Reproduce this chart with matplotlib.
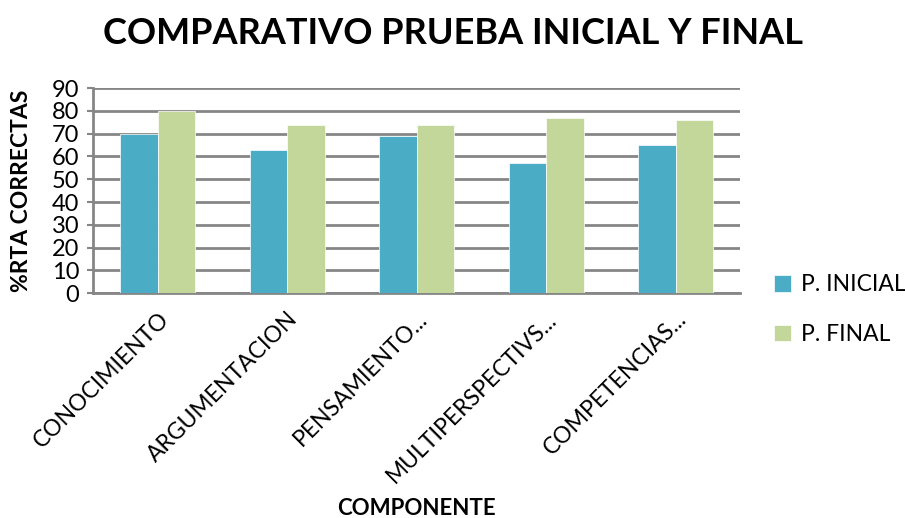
import matplotlib.pyplot as plt
import numpy as np

plt.rcParams['font.family'] = ['Lato', 'DejaVu Sans']

categorias = ['CONOCIMIENTO', 'ARGUMENTACION', 'PENSAMIENTO...',
              'MULTIPERSPECTIVS...', 'COMPETENCIAS...']
p_inicial = [70, 63, 69, 57, 65]
p_final = [80, 74, 74, 77, 76]

fig = plt.figure(figsize=(9.05, 5.18), dpi=100)
ax = fig.add_axes([0.103, 0.434, 0.715, 0.396])

x = np.arange(len(categorias))
w = 0.29
ax.bar(x - w / 2, p_inicial, w, color='#4BACC6', edgecolor='white', linewidth=0.5,
       label='P. INICIAL', zorder=3)
ax.bar(x + w / 2, p_final, w, color='#C4D79B', edgecolor='white', linewidth=0.5,
       label='P. FINAL', zorder=3)

ax.set_xlim(-0.5, len(categorias) - 0.5)
ax.set_ylim(0, 90)
ax.set_yticks(range(0, 91, 10))
ax.yaxis.grid(True, color='#868686', linewidth=2, zorder=0)
for s in ['top', 'right']:
    ax.spines[s].set_visible(False)
for s in ['left', 'bottom']:
    ax.spines[s].set_color('#868686')
    ax.spines[s].set_linewidth(2)
ax.tick_params(axis='y', length=4, width=1.5, color='#868686', labelsize=17, pad=6)
ax.tick_params(axis='x', length=0, labelsize=16.5, pad=11)
ax.set_xticks(x)
ax.set_xticklabels(categorias, rotation=45, ha='right', va='top',
                   rotation_mode='anchor')

ax.set_ylabel('%RTA CORRECTAS', fontsize=16.5, fontweight='bold')
ax.yaxis.set_label_coords(-0.094, 0.5)
ax.set_xlabel('COMPONENTE', fontsize=16, fontweight='bold')
ax.xaxis.set_label_coords(0.5, -1.0)

fig.suptitle('COMPARATIVO PRUEBA INICIAL Y FINAL', fontsize=26, fontweight='bold',
             x=0.5, y=0.968)

ax.legend(loc='center left', bbox_to_anchor=(1.02, -0.08), frameon=False,
          fontsize=16.5, handlelength=0.75, handleheight=0.75, labelspacing=1.25,
          handletextpad=0.45)

fig.savefig('out.png', dpi=100)
